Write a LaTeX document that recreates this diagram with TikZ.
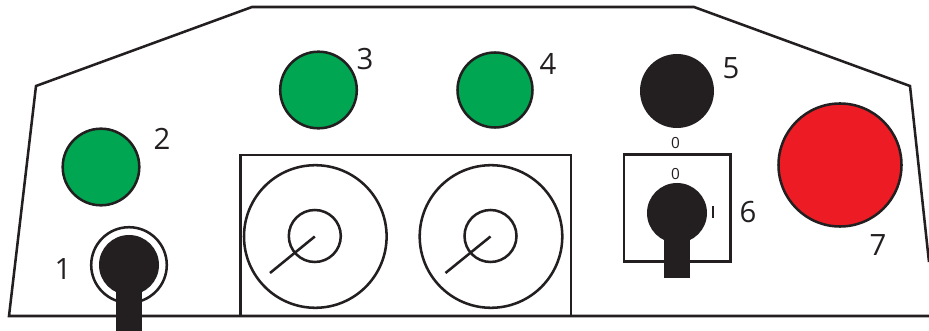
\documentclass[tikz,border=0pt]{standalone}
\usepackage{fontspec}
\setmainfont{Open Sans}
\definecolor{ink}{HTML}{231F20}
\definecolor{lampgreen}{HTML}{00A651}
\definecolor{stopred}{HTML}{ED1C24}
\tikzset{
  line/.style={draw=ink,line width=1.9pt},
  lamp/.style={line,fill=lampgreen},
  num/.style={font=\fontsize{22}{25}\selectfont,text=ink,inner sep=0pt},
  small/.style={font=\fontsize{11.5}{13}\selectfont,text=ink,inner sep=0pt}
}
\begin{document}
\begin{tikzpicture}[x=0.75pt,y=-0.75pt]
\useasboundingbox (0,0) rectangle (929,331);
\fill[white] (0,0) rectangle (929,331);
% housing
\begin{scope}
\clip (0,0) rectangle (929,331);
\draw[line,line join=miter] (929,262) -- (910,86) -- (694,7) -- (252,7) -- (36,86) -- (9,316) -- (929,316);
\end{scope}
% key panel
\draw[line] (240.5,316) -- (240.5,155) -- (571,155) -- (571,316);
\draw[line] (315.3,236.5) circle (71.3);
\draw[line] (314.8,236) circle (26);
\draw[line] (314.8,236.5) -- (270,273);
\draw[line] (491,236.5) circle (71.3);
\draw[line] (490.5,236) circle (26);
\draw[line] (490.5,236.5) -- (445.5,273);
% lamps
\draw[lamp] (101,167) circle (38.3);
\draw[lamp] (318.5,90) circle (38.3);
\draw[lamp] (495,90) circle (37.5);
\fill[ink] (677,91) circle (37);
\draw[line,fill=stopred] (840,165) circle (61.5);
% item 1
\draw[line] (129,265) circle (37.8);
\fill[ink] (129,265) circle (30);
\fill[ink] (116,270) rectangle (142,331);
% item 6
\draw[line] (624,154.5) rectangle (730.5,261.3);
\fill[ink] (677,213) circle (30);
\fill[ink] (664,220) rectangle (690,278.5);
\fill[ink] (712,206) rectangle (714,218);
% labels
\node[num] (n1) at (63,269) {1};
\node[num] (n2) at (162,139) {2};
\node[num] (n3) at (365,59) {3};
\node[num] (n4) at (548,64) {4};
\node[num] (n5) at (731,68) {5};
\node[num] (n6) at (748,212) {6};
\node[num] (n7) at (878,245) {7};
\node[small] (z1) at (675.5,143) {0};
\node[small] (z2) at (675.5,174) {0};
\end{tikzpicture}
\end{document}
